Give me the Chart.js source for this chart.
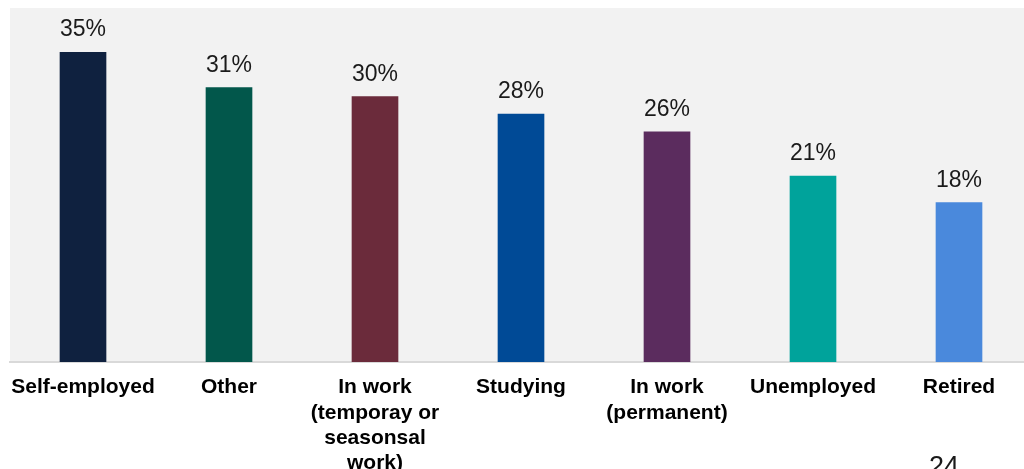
<!DOCTYPE html>
<html>
<head>
<meta charset="utf-8">
<script src="https://cdn.jsdelivr.net/npm/chart.js@4/dist/chart.umd.min.js"></script>
<style>
  html, body { margin: 0; padding: 0; background: #ffffff; overflow: hidden; width: 1024px; height: 469px; }
  #wrap { position: relative; width: 1024px; height: 469px; overflow: hidden; }
  canvas { position: absolute; left: 0; top: 0; }
  #page { position: absolute; left: 929px; top: 453px; font-family: "Liberation Sans", Arial, sans-serif; font-size: 27px; color: #1a1a1a; line-height: 1; }
</style>
</head>
<body>
<div id="wrap">
  <canvas id="c" width="1040" height="469"></canvas>
  <div id="page">24</div>
</div>
<script>
const categories = [
  'Self-employed',
  'Other',
  ['In work', '(temporay or', 'seasonsal', 'work)'],
  'Studying',
  ['In work', '(permanent)'],
  'Unemployed',
  'Retired'
];
const shares = [35, 31, 30, 28, 26, 21, 18];
const barColours = ['#0f213f', '#02574b', '#6b2b3b', '#004a96', '#5b2c5e', '#00a39b', '#4a89dc'];

const FONT = '"Liberation Sans", Arial, sans-serif';

// Light grey panel behind the plot area
const panel = {
  id: 'panel',
  beforeDraw(chart) {
    const { ctx, chartArea: a } = chart;
    ctx.save();
    ctx.fillStyle = '#f2f2f2';
    ctx.fillRect(a.left, a.top, a.right - a.left, a.bottom - a.top);
    ctx.restore();
  }
};

// Percentage labels above each bar
const valueLabels = {
  id: 'valueLabels',
  afterDatasetsDraw(chart) {
    const { ctx } = chart;
    const meta = chart.getDatasetMeta(0);
    ctx.save();
    ctx.font = '23px ' + FONT;
    ctx.fillStyle = '#1a1a1a';
    ctx.textAlign = 'center';
    ctx.textBaseline = 'alphabetic';
    meta.data.forEach((bar, i) => {
      ctx.fillText(shares[i] + '%', bar.x, bar.y - 16);
    });
    ctx.restore();
  }
};

new Chart(document.getElementById('c'), {
  type: 'bar',
  data: {
    labels: categories,
    datasets: [{
      data: shares,
      backgroundColor: barColours,
      borderWidth: 0,
      barThickness: 46
    }]
  },
  options: {
    responsive: false,
    animation: false,
    layout: { padding: { left: 10, right: 8, top: 8, bottom: 0 } },
    plugins: { legend: { display: false }, tooltip: { enabled: false } },
    scales: {
      y: { display: false, min: 0, max: 40 },
      x: {
        grid: { display: false, drawTicks: false },
        border: { display: true, color: '#d9d9d9', width: 2 },
        ticks: {
          color: '#000000',
          font: { family: FONT, size: 21, weight: 'bold', lineHeight: 1.2 },
          padding: 13,
          maxRotation: 0,
          autoSkip: false
        },
        afterFit(scale) {
          scale.height = 107;
          // let wide end labels overhang instead of shrinking the plot
          scale.paddingLeft = 0;
          scale.paddingRight = 0;
        }
      }
    }
  },
  plugins: [panel, valueLabels]
});
</script>
</body>
</html>
